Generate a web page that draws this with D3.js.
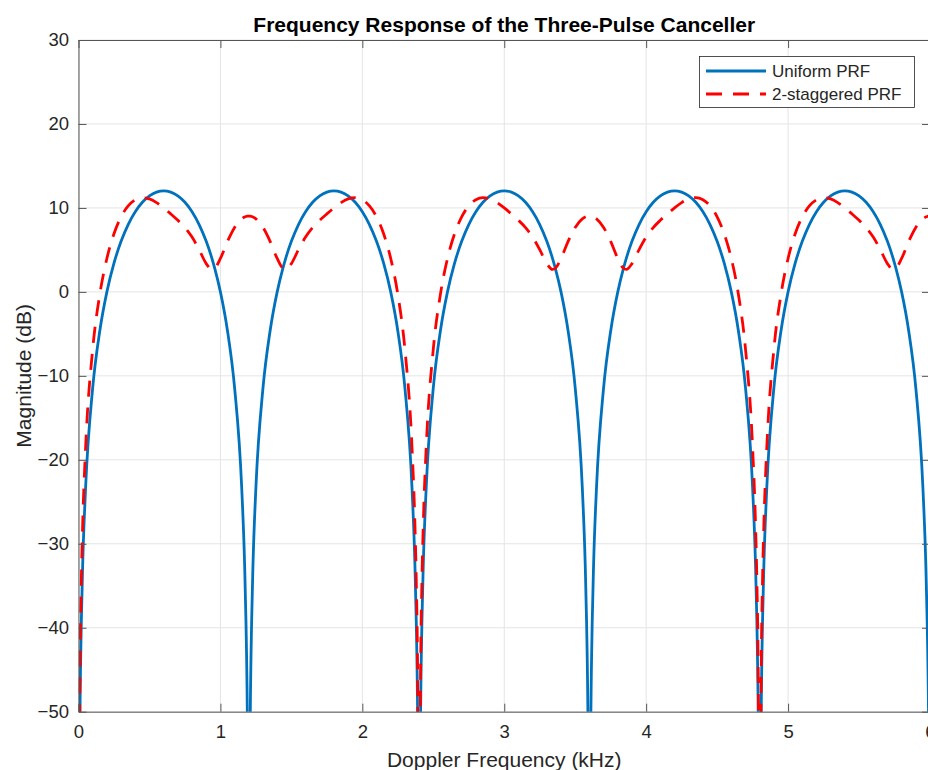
<!DOCTYPE html>
<html>
<head>
<meta charset="utf-8">
<script src="https://cdn.jsdelivr.net/npm/d3@7"></script>
<style>
  html, body { margin: 0; padding: 0; background: #fff; }
  svg { display: block; font-family: "Liberation Sans", Arial, Helvetica, sans-serif; }
</style>
</head>
<body>
<svg id="chart" width="928" height="770"></svg>
<script>
// Doppler frequency samples (kHz)
const freqKHz = [
  0, 0.01, 0.02, 0.03, 0.05, 0.1, 0.15, 0.2, 0.25, 0.3, 0.35, 0.4, 0.45, 0.5, 0.55, 0.6,
  0.65, 0.7, 0.75, 0.8, 0.85, 0.9, 0.94, 0.96, 1.0, 1.05, 1.1, 1.15, 1.17, 1.18, 1.19,
  1.2, 1.21, 1.22, 1.23, 1.25, 1.3, 1.35, 1.4, 1.44, 1.46, 1.5, 1.55, 1.6, 1.65, 1.7, 1.75,
  1.8, 1.85, 1.9, 1.95, 2.0, 2.05, 2.1, 2.15, 2.2, 2.25, 2.3, 2.35, 2.37, 2.38, 2.39,
  2.4, 2.41, 2.42, 2.43, 2.45, 2.5, 2.55, 2.6, 2.65, 2.7, 2.75, 2.8, 2.85, 2.9, 2.95, 3.0,
  3.05, 3.1, 3.15, 3.2, 3.25, 3.3, 3.34, 3.36, 3.4, 3.45, 3.5, 3.55, 3.57, 3.58, 3.59,
  3.6, 3.61, 3.62, 3.63, 3.65, 3.7, 3.75, 3.8, 3.84, 3.86, 3.9, 3.95, 4.0, 4.05, 4.1, 4.15,
  4.2, 4.25, 4.3, 4.35, 4.4, 4.45, 4.5, 4.55, 4.6, 4.65, 4.7, 4.75, 4.77, 4.78, 4.79,
  4.8, 4.81, 4.82, 4.83, 4.85, 4.9, 4.95, 5.0, 5.05, 5.1, 5.15, 5.2, 5.25, 5.3, 5.35, 5.4,
  5.45, 5.5, 5.55, 5.6, 5.65, 5.7, 5.74, 5.76, 5.8, 5.85, 5.9, 5.95, 5.97, 5.98, 5.99,
  6.0
];

// Uniform PRF response (dB); the nulls (-inf dB) are stored as -80 and clipped by the axes
const uniformDb = [
  -80, -51.24, -39.21, -32.17, -23.33, -11.44, -4.65, 0.00, 3.42, 6.02, 8.02, 9.54, 10.67, 11.44, 11.89, 12.04,
  11.89, 11.44, 10.67, 9.54, 8.02, 6.02, 4.00, 2.81, 0.00, -4.65, -11.44, -23.33, -32.17, -39.21, -51.24,
  -80, -51.24, -39.21, -32.17, -23.33, -11.44, -4.65, 0.00, 2.81, 4.00, 6.02, 8.02, 9.54, 10.67, 11.44, 11.89,
  12.04, 11.89, 11.44, 10.67, 9.54, 8.02, 6.02, 3.42, 0.00, -4.65, -11.44, -23.33, -32.17, -39.21, -51.24,
  -80, -51.24, -39.21, -32.17, -23.33, -11.44, -4.65, 0.00, 3.42, 6.02, 8.02, 9.54, 10.67, 11.44, 11.89, 12.04,
  11.89, 11.44, 10.67, 9.54, 8.02, 6.02, 4.00, 2.81, 0.00, -4.65, -11.44, -23.33, -32.17, -39.21, -51.24,
  -80, -51.24, -39.21, -32.17, -23.33, -11.44, -4.65, 0.00, 2.81, 4.00, 6.02, 8.02, 9.54, 10.67, 11.44, 11.89,
  12.04, 11.89, 11.44, 10.67, 9.54, 8.02, 6.02, 3.42, 0.00, -4.65, -11.44, -23.33, -32.17, -39.21, -51.24,
  -80, -51.24, -39.21, -32.17, -23.33, -11.44, -4.65, 0.00, 3.42, 6.02, 8.02, 9.54, 10.67, 11.44, 11.89, 12.04,
  11.89, 11.44, 10.67, 9.54, 8.02, 6.02, 4.00, 2.81, 0.00, -4.65, -11.44, -23.33, -32.17, -39.21, -51.24,
  -80
];

// 2-staggered PRF response (dB)
const staggeredDb = [
  -80, -46.43, -34.40, -27.38, -18.57, -6.83, -0.30, 3.98, 6.92, 8.94, 10.24, 10.97, 11.22, 11.07, 10.63, 10.00,
  9.29, 8.53, 7.66, 6.53, 5.03, 3.37, 2.67, 2.81, 3.98, 6.02, 7.68, 8.70, 8.91, 8.98, 9.02,
  9.03, 9.02, 8.98, 8.91, 8.70, 7.68, 6.02, 3.98, 2.81, 2.67, 3.37, 5.03, 6.53, 7.66, 8.53, 9.29,
  10.00, 10.63, 11.07, 11.22, 10.97, 10.24, 8.94, 6.92, 3.98, -0.30, -6.83, -18.57, -27.38, -34.40, -46.43,
  -80, -46.43, -34.40, -27.38, -18.57, -6.83, -0.30, 3.98, 6.92, 8.94, 10.24, 10.97, 11.22, 11.07, 10.63, 10.00,
  9.29, 8.53, 7.66, 6.53, 5.03, 3.37, 2.67, 2.81, 3.98, 6.02, 7.68, 8.70, 8.91, 8.98, 9.02,
  9.03, 9.02, 8.98, 8.91, 8.70, 7.68, 6.02, 3.98, 2.81, 2.67, 3.37, 5.03, 6.53, 7.66, 8.53, 9.29,
  10.00, 10.63, 11.07, 11.22, 10.97, 10.24, 8.94, 6.92, 3.98, -0.30, -6.83, -18.57, -27.38, -34.40, -46.43,
  -80, -46.43, -34.40, -27.38, -18.57, -6.83, -0.30, 3.98, 6.92, 8.94, 10.24, 10.97, 11.22, 11.07, 10.63, 10.00,
  9.29, 8.53, 7.66, 6.53, 5.03, 3.37, 2.67, 2.81, 3.98, 6.02, 7.68, 8.70, 8.91, 8.98, 9.02,
  9.03
];

const seriesNames = ["Uniform PRF", "2-staggered PRF"];
const xTicks = [0, 1, 2, 3, 4, 5, 6];
const yTicks = [-50, -40, -30, -20, -10, 0, 10, 20, 30];
const titleText = "Frequency Response of the Three-Pulse Canceller";
const xLabelText = "Doppler Frequency (kHz)";
const yLabelText = "Magnitude (dB)";

(function draw() {
  // ---- layout ----
  const boxL = 78.5, boxR = 930, boxT = 40, boxB = 711.7;
  const ink = "#262626";
  const gridColor = "#e4e4e4";
  const blue = "#0072BD", red = "#FF0000";

  const svg = d3.select("#chart");
  svg.append("rect").attr("width", 928).attr("height", 770).attr("fill", "#fff");

  const x = d3.scaleLinear().domain([0, 6]).range([boxL, boxR]);
  const y = d3.scaleLinear().domain([-50, 30]).range([boxB, boxT]);

  // grid
  const grid = svg.append("g");
  grid.selectAll("line.vg").data(xTicks).join("line")
    .attr("x1", d => x(d)).attr("x2", d => x(d))
    .attr("y1", boxT).attr("y2", boxB)
    .attr("stroke", gridColor).attr("stroke-width", 1);
  grid.selectAll("line.hg").data(yTicks).join("line")
    .attr("x1", boxL).attr("x2", boxR)
    .attr("y1", d => y(d)).attr("y2", d => y(d))
    .attr("stroke", gridColor).attr("stroke-width", 1);

  // clipping to the axes box
  svg.append("clipPath").attr("id", "plotClip")
    .append("rect").attr("x", boxL).attr("y", boxT)
    .attr("width", boxR - boxL).attr("height", boxB - boxT);

  const uniformPts = freqKHz.map((f, i) => ({ f, v: uniformDb[i] }));
  const staggeredPts = freqKHz.map((f, i) => ({ f, v: staggeredDb[i] }));

  const line = d3.line().x(d => x(d.f)).y(d => y(d.v)).curve(d3.curveMonotoneX);

  const plot = svg.append("g").attr("clip-path", "url(#plotClip)");
  plot.append("path").datum(uniformPts)
    .attr("d", line).attr("fill", "none")
    .attr("stroke", blue).attr("stroke-width", 2.8)
    .attr("stroke-linejoin", "round");
  plot.append("path").datum(staggeredPts)
    .attr("d", line).attr("fill", "none")
    .attr("stroke", red).attr("stroke-width", 2.8)
    .attr("stroke-dasharray", "16,11")
    .attr("stroke-linejoin", "round");

  // axes (ticks point inward, box on all four sides)
  function styleAxis(g) {
    g.attr("font-family", null).attr("font-size", 18.5);
    g.selectAll(".domain").attr("stroke", "#555").attr("stroke-width", 1);
    g.selectAll(".tick line").attr("stroke", "#555");
    g.selectAll(".tick text").attr("fill", ink);
  }
  svg.append("g").attr("transform", `translate(0,${boxB})`)
    .call(d3.axisBottom(x).tickValues(xTicks).tickSize(-8).tickSizeOuter(0).tickPadding(13).tickFormat(d3.format("d")))
    .call(styleAxis);
  svg.append("g").attr("transform", `translate(0,${boxT})`)
    .call(d3.axisTop(x).tickValues(xTicks).tickSize(-8).tickSizeOuter(0).tickFormat(() => ""))
    .call(styleAxis);
  svg.append("g").attr("transform", `translate(${boxL},0)`)
    .call(d3.axisLeft(y).tickValues(yTicks).tickSize(-8).tickSizeOuter(0).tickPadding(9.5).tickFormat(d3.format("d")))
    .call(styleAxis);
  svg.append("g").attr("transform", `translate(${boxR},0)`)
    .call(d3.axisRight(y).tickValues(yTicks).tickSize(-8).tickSizeOuter(0).tickFormat(() => ""))
    .call(styleAxis);

  // title and axis labels
  svg.append("text").attr("x", (boxL + boxR) / 2).attr("y", 32)
    .attr("text-anchor", "middle").attr("font-size", 21).attr("font-weight", "bold")
    .attr("fill", "#000").text(titleText);
  svg.append("text").attr("x", (boxL + boxR) / 2).attr("y", 767)
    .attr("text-anchor", "middle").attr("font-size", 21).attr("fill", ink).text(xLabelText);
  svg.append("text").attr("transform", `translate(31,${(boxT + boxB) / 2}) rotate(-90)`)
    .attr("text-anchor", "middle").attr("font-size", 21).attr("fill", ink).text(yLabelText);

  // legend
  const legend = svg.append("g");
  legend.append("rect").attr("x", 699.5).attr("y", 56.5).attr("width", 215).attr("height", 51)
    .attr("fill", "#fff").attr("stroke", ink).attr("stroke-width", 0.8);
  const legendStyles = [
    { color: blue, dash: null },
    { color: red, dash: "16,11" }
  ];
  seriesNames.forEach((name, i) => {
    const ly = 71 + i * 23;
    legend.append("line").attr("x1", 706).attr("x2", 766).attr("y1", ly).attr("y2", ly)
      .attr("stroke", legendStyles[i].color).attr("stroke-width", 2.8)
      .attr("stroke-dasharray", legendStyles[i].dash);
    legend.append("text").attr("x", 772).attr("y", ly + 6.3)
      .attr("font-size", 17).attr("fill", ink).text(name);
  });
})();
</script>
</body>
</html>
